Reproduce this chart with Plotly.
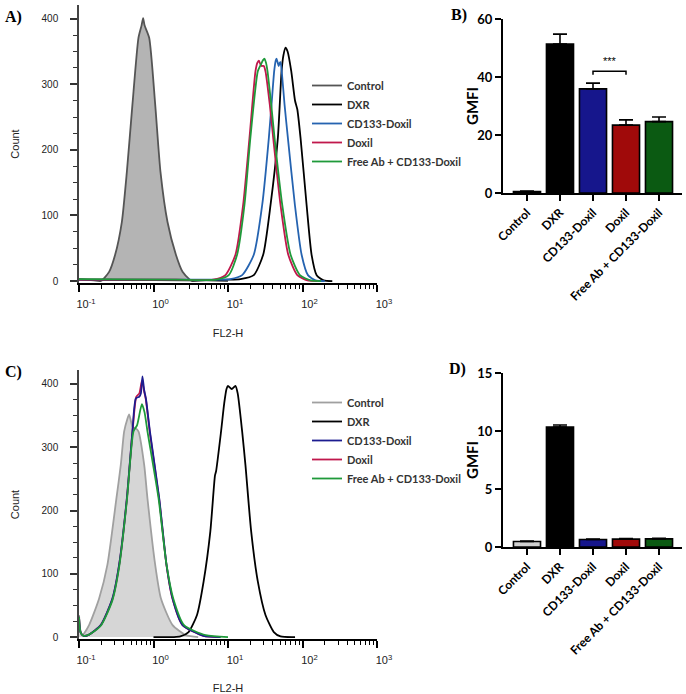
import plotly.graph_objects as go

W, H = 686, 694

# ---------------- data ----------------
# Panel A histograms (x = log10 FL2-H, y = count)
ctrlA_log = [-1.0, -0.8, -0.708, -0.596, -0.515, -0.425, -0.358, -0.283, -0.202, -0.16, -0.139, -0.12, -0.058, 0.023, 0.094, 0.188, 0.301, 0.39, 0.48, 0.52, 0.7, 1.0]
ctrlA_cnt = [3, 1, 0, 14, 40, 90, 166, 269, 371, 390, 401, 390, 371, 269, 166, 90, 40, 14, 3, 0, 1, 0]
dxrA_log = [-1.0, 0.5, 0.99, 1.167, 1.346, 1.472, 1.571, 1.669, 1.719, 1.745, 1.773, 1.80, 1.849, 1.90, 1.93, 1.974, 2.055, 2.122, 2.19, 2.284, 2.4]
dxrA_cnt = [2, 1, 2, 3, 9, 40, 116, 218, 320, 345, 356, 350, 320, 275, 262, 218, 116, 40, 9, 1, 0]
cd133A_log = [-1.0, 0.5, 1.03, 1.19, 1.346, 1.459, 1.548, 1.584, 1.62, 1.64, 1.651, 1.665, 1.68, 1.695, 1.705, 1.725, 1.759, 1.804, 1.898, 1.988, 2.073, 2.176, 2.3]
cd133A_cnt = [2, 2, 3, 9, 40, 116, 218, 269, 320, 336, 339, 334, 328, 333, 334, 315, 269, 218, 116, 40, 9, 1, 0]
doxilA_log = [-1.0, 0.3, 0.8, 0.965, 1.10, 1.203, 1.288, 1.369, 1.395, 1.414, 1.43, 1.45, 1.48, 1.503, 1.561, 1.607, 1.705, 1.809, 1.93, 2.064, 2.2]
doxilA_cnt = [2, 2, 2, 9, 40, 116, 218, 320, 333, 336, 332, 328, 328, 320, 269, 218, 116, 40, 9, 1, 0]
freeA_log = [-1.0, 0.3, 0.84, 1.01, 1.122, 1.221, 1.30, 1.40, 1.44, 1.47, 1.49, 1.51, 1.53, 1.58, 1.625, 1.728, 1.84, 1.965, 2.109, 2.25]
freeA_cnt = [3, 2, 2, 9, 40, 116, 218, 320, 330, 337, 339, 333, 320, 269, 218, 116, 40, 9, 1, 0]

# Panel C histograms
ctrlC_log = [-1.0, -0.98, -0.955, -0.865, -0.73, -0.619, -0.498, -0.439, -0.394, -0.35, -0.327, -0.28, -0.24, -0.202, -0.125, -0.081, 0.023, 0.10, 0.256, 0.436, 0.6]
ctrlC_cnt = [35, 10, 3, 19, 61, 114, 219, 272, 325, 345, 352, 332, 330, 325, 272, 219, 114, 61, 19, 3, 0]
dxrC_log = [0.0, 0.27, 0.36, 0.471, 0.584, 0.673, 0.763, 0.825, 0.84, 0.907, 0.95, 0.98, 1.0, 1.05, 1.10, 1.13, 1.19, 1.234, 1.311, 1.40, 1.503, 1.615, 1.705, 1.9]
dxrC_cnt = [0, 0, 1, 8, 35, 88, 167, 255, 262, 325, 370, 392, 397, 392, 397, 385, 325, 272, 167, 88, 35, 8, 1, 0]
cd133C_log = [-1.0, -0.98, -0.94, -0.865, -0.708, -0.552, -0.462, -0.358, -0.283, -0.237, -0.19, -0.17, -0.148, -0.125, -0.102, -0.048, 0.077, 0.175, 0.256, 0.39, 0.67, 0.9]
cd133C_cnt = [32, 8, 2, 4, 19, 61, 114, 219, 325, 377, 380, 385, 412, 390, 377, 325, 219, 114, 61, 19, 2, 0]
doxilC_log = [-1.0, -0.98, -0.94, -0.865, -0.708, -0.552, -0.462, -0.358, -0.28, -0.23, -0.19, -0.155, -0.125, -0.102, -0.048, 0.077, 0.175, 0.256, 0.39, 0.67, 0.9]
doxilC_cnt = [32, 8, 2, 4, 19, 60, 113, 218, 327, 380, 385, 405, 388, 375, 322, 217, 113, 60, 19, 2, 0]
freeC_log = [-1.0, -0.98, -0.94, -0.865, -0.708, -0.552, -0.462, -0.358, -0.269, -0.22, -0.156, -0.12, -0.081, 0.068, 0.175, 0.265, 0.41, 0.7, 1.0]
freeC_cnt = [32, 8, 2, 4, 18, 58, 110, 215, 325, 335, 368, 355, 325, 219, 114, 61, 19, 3, 0]

# Bar charts
groups = ["Control", "DXR", "CD133-Doxil", "Doxil", "Free Ab + CD133-Doxil"]
gmfi_B = [0.5, 51.4, 35.9, 23.4, 24.6]
err_B = [0.2, 3.4, 2.0, 1.8, 1.6]
gmfi_D = [0.47, 10.34, 0.65, 0.68, 0.7]
err_D = [0.05, 0.18, 0.03, 0.05, 0.05]
sig_pair = (2, 3)
sig_level = 42.0
sig_text = "***"

xtick_vals = [0.1, 1, 10, 100, 1000]
xtick_text = ["10<sup>-1</sup>", "10<sup>0</sup>", "10<sup>1</sup>", "10<sup>2</sup>", "10<sup>3</sup>"]
xminor_vals = [m * d for d in [0.1, 1, 10, 100] for m in range(2, 10)]

# ---------------- styling ----------------
C_CTRL_A_LINE, C_CTRL_A_FILL = "#555555", "#b4b4b4"
C_CTRL_C_LINE, C_CTRL_C_FILL = "#a0a0a0", "#d6d6d6"
C_DXR = "#000000"
C_CD133_A = "#2563b0"
C_CD133_C = "#1c1c90"
C_DOXIL = "#c0184c"
C_FREE = "#1f9a3a"
BAR_COLORS = ["#cfcfcf", "#000000", "#16168c", "#a00a0a", "#0b5a12"]


def px_x(p):
    return p / W


def px_y(p):
    return 1 - p / H


fig = go.Figure()


def hist(xlog, cnt, name, color, xa, ya, leg, rank, fill=None, width=1.8):
    xs = [10 ** v for v in xlog]
    line = dict(color=color, width=width, shape="spline", smoothing=0.6)
    if fill:
        fig.add_trace(go.Scatter(
            x=xs, y=cnt, mode="lines", line=dict(width=0, shape="spline", smoothing=0.6),
            fill="tozeroy", fillcolor=fill, xaxis=xa, yaxis=ya, showlegend=False, hoverinfo="skip",
        ))
    fig.add_trace(go.Scatter(
        x=xs, y=cnt, name=name, mode="lines", line=line,
        xaxis=xa, yaxis=ya, legend=leg, legendrank=rank, showlegend=True,
    ))


# Panel A
hist(ctrlA_log, ctrlA_cnt, "Control", C_CTRL_A_LINE, "x", "y", "legend", 1, fill=C_CTRL_A_FILL)
hist(dxrA_log, dxrA_cnt, "DXR", C_DXR, "x", "y", "legend", 2)
hist(cd133A_log, cd133A_cnt, "CD133-Doxil", C_CD133_A, "x", "y", "legend", 3)
hist(doxilA_log, doxilA_cnt, "Doxil", C_DOXIL, "x", "y", "legend", 4)
hist(freeA_log, freeA_cnt, "Free Ab + CD133-Doxil", C_FREE, "x", "y", "legend", 5)
# Panel C
hist(ctrlC_log, ctrlC_cnt, "Control", C_CTRL_C_LINE, "x3", "y3", "legend2", 1, fill=C_CTRL_C_FILL)
hist(dxrC_log, dxrC_cnt, "DXR", C_DXR, "x3", "y3", "legend2", 2)
hist(doxilC_log, doxilC_cnt, "Doxil", C_DOXIL, "x3", "y3", "legend2", 4)
hist(cd133C_log, cd133C_cnt, "CD133-Doxil", C_CD133_C, "x3", "y3", "legend2", 3)
hist(freeC_log, freeC_cnt, "Free Ab + CD133-Doxil", C_FREE, "x3", "y3", "legend2", 5)

# Bars
for vals, errs, xa, ya in [(gmfi_B, err_B, "x2", "y2"), (gmfi_D, err_D, "x4", "y4")]:
    fig.add_trace(go.Bar(
        x=groups, y=vals, xaxis=xa, yaxis=ya, width=0.82, showlegend=False,
        marker=dict(color=BAR_COLORS, line=dict(color="black", width=1.6)),
        error_y=dict(type="data", array=errs, arrayminus=[0] * len(errs), symmetric=False,
                     color="black", thickness=1.6, width=7),
    ))

# significance bracket on B
a, b = sig_pair
fig.add_shape(type="path", xref="x2", yref="y2",
              path=f"M {a},{sig_level - 1.2} L {a},{sig_level} L {b},{sig_level} L {b},{sig_level - 1.2}",
              line=dict(color="black", width=1.5))
fig.add_annotation(x=(a + b) / 2, y=sig_level + 0.6, xref="x2", yref="y2", text=sig_text,
                   showarrow=False, yanchor="bottom", font=dict(size=11, color="black", family="Liberation Sans"))

TICKFONT = dict(family="Liberation Sans", size=11, color="#222")
TITLEFONT = dict(family="Liberation Sans", size=11, color="#222")


def hist_axes(xname, yname, ydom, ymax):
    fig.update_layout(**{
        xname: dict(type="log", range=[-1, 3], domain=[px_x(79), px_x(377)], anchor=yname.replace("axis", ""),
                    tickvals=xtick_vals, ticktext=xtick_text, ticks="outside", ticklen=7, tickwidth=1.5,
                    tickcolor="black", showline=True, linecolor="black", linewidth=2, showgrid=False,
                    zeroline=False, tickfont=TICKFONT, ticklabelshift=7, ticklabelstandoff=3,
                    minor=dict(tickvals=xminor_vals, ticks="outside", ticklen=4, tickcolor="black", tickwidth=1),
                    title=dict(text="FL2-H", font=TITLEFONT, standoff=20)),
        yname: dict(range=[-3, ymax], domain=ydom, anchor=xname.replace("axis", ""),
                    tickvals=[0, 100, 200, 300, 400], ticks="outside", ticklen=7, tickwidth=1.5,
                    tickcolor="#333", showline=True, linecolor="#444", linewidth=1.5, showgrid=False,
                    zeroline=False, tickfont=dict(family="Liberation Sans", size=10, color="#222"),
                    ticklabelstandoff=10,
                    minor=dict(dtick=25, ticks="outside", ticklen=4, tickcolor="#333", tickwidth=1),
                    title=dict(text="Count", font=TITLEFONT, standoff=20)),
    })


hist_axes("xaxis", "yaxis", [px_y(283), px_y(5)], 421)
hist_axes("xaxis3", "yaxis3", [px_y(639), px_y(370)], 422)

BARTICK = dict(family="Lato", size=12, color="black", weight="bold")


def bar_axes(xname, yname, ydom, yr, dtick):
    fig.update_layout(**{
        xname: dict(domain=[px_x(503), px_x(682)], range=[-0.727, 4.697], anchor=yname.replace("axis", ""),
                    tickangle=-45, ticks="outside", ticklen=6, tickwidth=1.6, tickcolor="black",
                    showline=True, linecolor="black", linewidth=2, showgrid=False, tickfont=BARTICK),
        yname: dict(domain=ydom, range=yr, dtick=dtick, anchor=xname.replace("axis", ""),
                    ticks="outside", ticklen=6, tickwidth=1.6, tickcolor="black", showline=True,
                    linecolor="black", linewidth=2, showgrid=False, zeroline=False,
                    tickfont=dict(family="Lato", size=13, color="black", weight="bold")),
    })


bar_axes("xaxis2", "yaxis2", [px_y(193), px_y(19)], [0, 60], 20)
bar_axes("xaxis4", "yaxis4", [px_y(547), px_y(373)], [0, 15], 5)

GMFI_FONT = dict(family="Lato", size=15, color="black", weight="bold")
for ycen in [106, 460]:
    fig.add_annotation(text="GMFI", x=px_x(472), y=px_y(ycen), xref="paper", yref="paper",
                       textangle=-90, showarrow=False, xanchor="center", yanchor="middle", font=GMFI_FONT)

LEGFONT = dict(family="Lato", size=11, color="#333", weight="bold")
fig.update_layout(
    width=W, height=H, margin=dict(l=0, r=0, t=0, b=0, pad=0, autoexpand=False), autosize=False,
    paper_bgcolor="white", plot_bgcolor="white",
    legend=dict(x=px_x(307), y=px_y(71), xanchor="left", yanchor="top", font=LEGFONT,
                bgcolor="rgba(0,0,0,0)", tracegroupgap=0, itemwidth=30),
    legend2=dict(x=px_x(307), y=px_y(388), xanchor="left", yanchor="top", font=LEGFONT,
                 bgcolor="rgba(0,0,0,0)", tracegroupgap=0, itemwidth=30),
)

PANEL = dict(family="Liberation Serif", size=16, color="black", weight="bold")
for txt, x, y in [("A)", 3, 17), ("B)", 449, 15), ("C)", 3, 372), ("D)", 447, 369)]:
    fig.add_annotation(text=txt, x=px_x(x), y=px_y(y), xref="paper", yref="paper",
                       xanchor="left", yanchor="middle", showarrow=False, font=PANEL)

fig.write_html("out.html", config={"displayModeBar": False},
               post_script="document.body.style.margin='0px';")
